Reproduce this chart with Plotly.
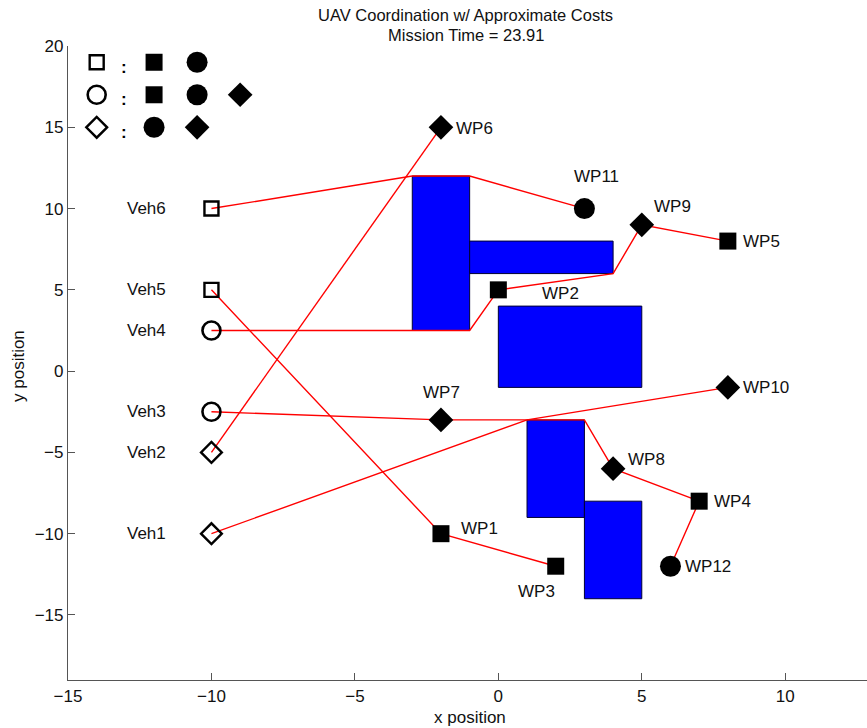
import plotly.graph_objects as go

# ---------------- data ----------------
veh_names = ["Veh1", "Veh2", "Veh3", "Veh4", "Veh5", "Veh6"]
veh_x = [-10, -10, -10, -10, -10, -10]
veh_y = [-10, -5, -2.5, 2.5, 5, 10]
veh_kind = ["diamond", "diamond", "circle", "circle", "square", "square"]
veh_label_x = [-13, -13, -13, -13, -13, -13]

wp_names = ["WP1", "WP2", "WP3", "WP4", "WP5", "WP6",
            "WP7", "WP8", "WP9", "WP10", "WP11", "WP12"]
wp_x = [-2, 0, 2, 7, 8, -2, -2, 4, 5, 8, 3, 6]
wp_y = [-10, 5, -12, -8, 8, 15, -3, -6, 9, -1, 10, -12]
wp_kind = ["square", "square", "square", "square", "square", "diamond",
           "diamond", "diamond", "diamond", "diamond", "circle", "circle"]
wp_label_x = [-1.38, 1.45, 0.62, 7.45, 8.45, -1.55, -2.7, 4.45, 5.35, 8.45, 2.55, 6.45]
wp_label_y = [-9.65, 4.75, -13.55, -8.0, 8.0, 14.95, -1.3, -5.45, 10.1, -1.0, 11.95, -12.0]

# vehicle routes (x list, y list)
route_x = [
    [-10, 1, 8],
    [-10, -2],
    [-10, -2, 1, 3, 4, 7, 6],
    [-10, -1, 0, 4, 5, 8],
    [-10, -2, 2],
    [-10, -3, -1, 3],
]
route_y = [
    [-10, -3, -1],
    [-5, 15],
    [-2.5, -3, -3, -3, -6, -8, -12],
    [2.5, 2.5, 5, 6, 9, 8],
    [5, -10, -12],
    [10, 12, 12, 10],
]

# obstacles
obs_x0 = [-3, -1, 0, 1, 3]
obs_x1 = [-1, 4, 5, 3, 5]
obs_y0 = [2.5, 6, -1, -9, -14]
obs_y1 = [12, 8, 4, -3, -8]

# capability legend: vehicle type -> waypoint types it can serve
legend_vehicle = ["square", "circle", "diamond"]
legend_targets = [["square", "circle"],
                  ["square", "circle", "diamond"],
                  ["circle", "diamond"]]
legend_row_y = [19, 17, 15]
legend_veh_x = -14
legend_colon_x = -13.05
legend_target_x = [-12, -10.5, -9]

title_lines = ["UAV Coordination w/ Approximate Costs", "Mission Time = 23.91"]

# ---------------- styling ----------------
FONT = "Liberation Sans, Arial, Helvetica, sans-serif"
TXT = "#111111"
FS = 17

filled_size = {"square": 17, "circle": 21, "diamond": 19}
open_size = {"square": 14, "circle": 18, "diamond": 16}
open_width = {"square": 2.4, "circle": 2.6, "diamond": 2.4}

fig = go.Figure()

shapes = []
for x0, x1, y0, y1 in zip(obs_x0, obs_x1, obs_y0, obs_y1):
    shapes.append(dict(type="rect", xref="x", yref="y", x0=x0, x1=x1, y0=y0, y1=y1,
                       fillcolor="#0000ff", line=dict(color="#000033", width=1),
                       layer="below"))

for rx, ry in zip(route_x, route_y):
    fig.add_trace(go.Scatter(x=rx, y=ry, mode="lines",
                             line=dict(color="#ff0000", width=1.4),
                             hoverinfo="skip", showlegend=False))

for kind in ["square", "circle", "diamond"]:
    xs = [x for x, k in zip(wp_x, wp_kind) if k == kind]
    ys = [y for y, k in zip(wp_y, wp_kind) if k == kind]
    fig.add_trace(go.Scatter(x=xs, y=ys, mode="markers",
                             marker=dict(symbol=kind, size=filled_size[kind], color="black",
                                         line=dict(width=0)),
                             showlegend=False))

for kind in ["square", "circle", "diamond"]:
    xs = [x for x, k in zip(veh_x, veh_kind) if k == kind]
    ys = [y for y, k in zip(veh_y, veh_kind) if k == kind]
    fig.add_trace(go.Scatter(x=xs, y=ys, mode="markers",
                             marker=dict(symbol=kind + "-open", size=open_size[kind],
                                         color="black",
                                         line=dict(width=open_width[kind], color="black")),
                             showlegend=False))

for vk, targets, ry in zip(legend_vehicle, legend_targets, legend_row_y):
    fig.add_trace(go.Scatter(x=[legend_veh_x], y=[ry], mode="markers",
                             marker=dict(symbol=vk + "-open", size=open_size[vk], color="black",
                                         line=dict(width=open_width[vk], color="black")),
                             showlegend=False))
    for tk, tx in zip(targets, legend_target_x):
        fig.add_trace(go.Scatter(x=[tx], y=[ry], mode="markers",
                                 marker=dict(symbol=tk, size=filled_size[tk], color="black",
                                             line=dict(width=0)),
                                 showlegend=False))

annotations = []
for ry in legend_row_y:
    annotations.append(dict(x=legend_colon_x, y=ry - 0.3, xref="x", yref="y", text="<b>:</b>",
                            showarrow=False, xanchor="center", yanchor="middle",
                            font=dict(family=FONT, size=FS, color="black")))

for name, lx, ly in zip(veh_names, veh_label_x, veh_y):
    annotations.append(dict(x=lx, y=ly, xref="x", yref="y", text=name, showarrow=False,
                            xanchor="left", yanchor="middle",
                            font=dict(family=FONT, size=FS, color=TXT)))

for name, lx, ly in zip(wp_names, wp_label_x, wp_label_y):
    annotations.append(dict(x=lx, y=ly, xref="x", yref="y", text=name, showarrow=False,
                            xanchor="left", yanchor="middle",
                            font=dict(family=FONT, size=FS, color=TXT)))

# title lines (plot area spans pixels 46..680 vertically)
for line, py in zip(title_lines, [15, 35]):
    annotations.append(dict(x=0.4975, y=(680 - py) / 634, xref="paper", yref="paper", text=line,
                            showarrow=False, xanchor="center", yanchor="middle",
                            font=dict(family=FONT, size=16.5, color=TXT)))

annotations.append(dict(x=0.503, y=(680 - 717) / 634, xref="paper", yref="paper", text="x position",
                        showarrow=False, xanchor="center", yanchor="middle",
                        font=dict(family=FONT, size=FS, color=TXT)))
annotations.append(dict(x=(18 - 68) / 799, y=(680 - 366) / 634, xref="paper", yref="paper",
                        text="y position", showarrow=False, xanchor="center", yanchor="middle",
                        textangle=-90, font=dict(family=FONT, size=FS, color=TXT)))

fig.update_layout(
    width=867, height=728,
    margin=dict(l=68, r=0, t=46, b=48, autoexpand=False),
    paper_bgcolor="white", plot_bgcolor="white",
    shapes=shapes,
    annotations=annotations,
    showlegend=False,
    xaxis=dict(range=[-15, 12.85], tickvals=[-15, -10, -5, 0, 5, 10],
               ticks="inside", ticklen=7, tickcolor="#555555", tickwidth=1,
               showline=True, linecolor="#555555", linewidth=1.2, mirror=False,
               showgrid=False, zeroline=False,
               tickfont=dict(family=FONT, size=FS, color=TXT)),
    yaxis=dict(range=[-19, 20], tickvals=[-15, -10, -5, 0, 5, 10, 15, 20],
               ticks="inside", ticklen=7, tickcolor="#555555", tickwidth=1,
               showline=True, linecolor="#555555", linewidth=1.2, mirror=False,
               showgrid=False, zeroline=False,
               tickfont=dict(family=FONT, size=FS, color=TXT)),
)

fig.write_html("out.html",
               config={"displayModeBar": False},
               post_script="document.body.style.margin='0';document.body.style.overflow='hidden';")
